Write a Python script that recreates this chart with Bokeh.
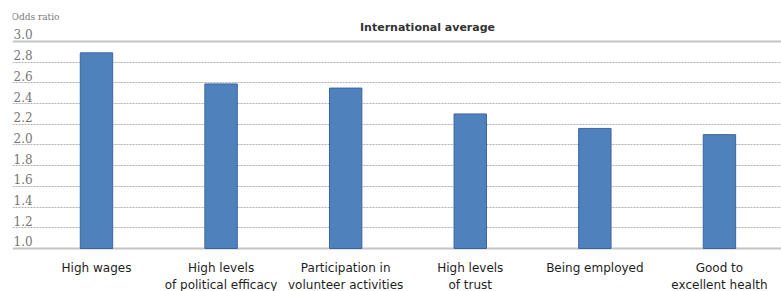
from bokeh.plotting import figure
from bokeh.models import Range1d, Span, FixedTicker, ColumnDataSource
from bokeh.core.properties import value
from bokeh.embed import file_html
from bokeh.resources import INLINE

categories = ["High wages", "High levels\nof political efficacy", "Participation in\nvolunteer activities",
              "High levels\nof trust", "Being employed", "Good to\nexcellent health"]
odds_ratio = [2.89, 2.59, 2.55, 2.30, 2.16, 2.10]
y_ticks = [1.0, 1.2, 1.4, 1.6, 1.8, 2.0, 2.2, 2.4, 2.6, 2.8, 3.0]
y_tick_labels = ["1.0", "1.2", "1.4", "1.6", "1.8", "2.0", "2.2", "2.4", "2.6", "2.8", "3.0"]
title_text = "International average"
y_title = "Odds ratio"

xs = list(range(len(categories)))
p = figure(width=781, height=291, output_backend="svg", toolbar_location=None,
           x_range=Range1d(-0.674, 5.498), y_range=Range1d(0.5845, 3.396),
           x_axis_location=None, y_axis_location=None,
           min_border_left=12, min_border_right=0, min_border_top=0, min_border_bottom=0)
p.outline_line_color = None
p.background_fill_color = "white"

src = ColumnDataSource(dict(x=xs, top=odds_ratio))
p.vbar(x="x", top="top", bottom=1.0, width=0.26, source=src,
       fill_color="#4F81BD", line_color="#3A65A0", line_width=1)

p.xgrid.grid_line_color = None
p.ygrid.ticker = FixedTicker(ticks=y_ticks[1:-1])
p.ygrid.grid_line_color = "#b0b0b0"
p.ygrid.grid_line_dash = "2 1"
p.ygrid.grid_line_width = 1

for yv in (y_ticks[0], y_ticks[-1]):
    p.add_layout(Span(location=yv, dimension="width", line_color="#c4c4c4", line_width=2, level="underlay"))

p.text(x=[-0.665] * len(y_ticks), y=y_ticks, text=y_tick_labels, y_offset=-2,
       text_baseline="bottom", text_align="left", text_font=value("DejaVu Serif"),
       text_font_size="12px", text_color="#777777")

p.text(x=[2.657], y=[3.135], text=[title_text], text_align="center", text_baseline="middle",
       text_font=value("DejaVu Sans"), text_font_size="11px", text_font_style="bold",
       text_color="#333333")
p.text(x=[-0.682], y=[3.24], text=[y_title], text_align="left", text_baseline="middle",
       text_font=value("DejaVu Serif"), text_font_size="9px", text_color="#777777")

p.text(x=xs, y=[1.0] * len(xs), text=categories, y_offset=13, text_align="center",
       text_baseline="top", text_line_height=1.2, text_font=value("DejaVu Sans"),
       text_font_size="12px", text_color="#1e1e1e")

open("out.html", "w").write(file_html(p, INLINE))
